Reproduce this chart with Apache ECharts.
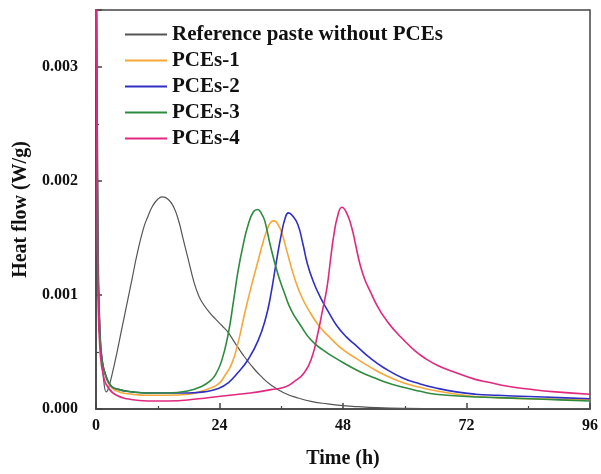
<!DOCTYPE html>
<html>
<head>
<meta charset="utf-8">
<script src="https://cdn.jsdelivr.net/npm/echarts@6/dist/echarts.min.js"></script>
<style>html,body{margin:0;padding:0;background:#fff}#c{width:601px;height:474px}</style>
</head>
<body>
<div id="c"></div>
<script>
// ---- Data (time in h, heat flow in W/g) ----
const seriesNames = ['Reference paste without PCEs', 'PCEs-1', 'PCEs-2', 'PCEs-3', 'PCEs-4'];
const xTicks = [0, 24, 48, 72, 96];
const yTicks = [0.000, 0.001, 0.002, 0.003];

const refT = [0, 0.5, 1.0, 1.5, 2.0, 2.4, 3, 4, 5, 6, 7, 8, 9.2, 10, 11, 12, 12.9, 14, 15, 16, 17, 18, 19, 20, 21, 22, 23.2, 24.5, 25.7, 27, 28.5, 30.2, 32, 34, 36.6, 39, 42, 45, 48, 51, 54.5, 60, 66, 72, 84, 96];
const refV = [0.0042, 0.0012, 0.0005, 0.00025, 0.00015, 0.00018, 0.00028, 0.00048, 0.00070, 0.00092, 0.00114, 0.00136, 0.00158, 0.00168, 0.00178, 0.00184, 0.00186, 0.00184, 0.00178, 0.00166, 0.00148, 0.00130, 0.00112, 0.00099, 0.00091, 0.00085, 0.00079, 0.00073, 0.00067, 0.00058, 0.00048, 0.00038, 0.00029, 0.00021, 0.00014, 0.00010, 0.000065, 0.000045, 0.00003, 0.00002, 0.000012, 0.000006, 0.000004, 0.000003, 0.000002, 0.000002];

const p1T = [0, 0.3, 0.7, 1.2, 2, 3, 4.5, 7, 10, 14, 18, 20, 22, 23.8, 25, 26.4, 27.6, 28.9, 30.2, 31.5, 32.5, 33.4, 34, 34.6, 35.2, 36, 37, 38.5, 40, 41.7, 43.5, 45.6, 48, 50.7, 53.2, 56, 59.7, 63, 66, 70, 73.7, 78, 84, 90, 96];
const p1V = [0.0042, 0.0015, 0.0007, 0.00042, 0.00027, 0.00019, 0.00015, 0.00013, 0.00012, 0.00012, 0.00013, 0.00015, 0.00018, 0.00022, 0.00029, 0.00040, 0.00058, 0.00084, 0.00108, 0.00130, 0.00147, 0.00159, 0.00164, 0.00165, 0.00163, 0.00156, 0.00140, 0.00116, 0.00098, 0.00084, 0.00072, 0.00062, 0.00052, 0.00044, 0.00037, 0.00030, 0.00023, 0.00019, 0.00016, 0.00013, 0.00011, 0.00010, 0.00009, 0.000085, 0.00008];

const p2T = [0, 0.3, 0.7, 1.2, 2, 3, 4.5, 7, 10, 14, 18, 21, 23.8, 25.7, 27.6, 29.5, 31.5, 33, 34, 35, 36, 36.8, 37.4, 38.1, 39.2, 40.2, 41.1, 42.3, 43.6, 45.2, 46.8, 48.7, 50.7, 53.2, 56, 59.7, 63, 66, 70, 73.7, 78, 84, 90, 96];
const p2V = [0.0042, 0.0015, 0.0007, 0.00042, 0.00028, 0.00020, 0.00017, 0.00015, 0.00014, 0.00014, 0.00014, 0.00015, 0.00018, 0.00023, 0.00032, 0.00043, 0.00060, 0.00080, 0.00101, 0.00128, 0.00153, 0.00168, 0.00172, 0.00170, 0.00162, 0.00145, 0.00127, 0.00111, 0.00098, 0.00085, 0.00073, 0.00063, 0.00055, 0.00045, 0.00036, 0.00027, 0.00022, 0.000185, 0.00015, 0.00013, 0.00012, 0.00011, 0.00010, 0.00009];

const p3T = [0, 0.3, 0.7, 1.2, 2, 3, 4.5, 7, 10, 14, 18, 20.6, 22, 23.2, 24.4, 25.7, 26.7, 27.6, 28.6, 29.6, 30.6, 31.4, 32.2, 32.8, 33.8, 35.3, 36.6, 37.9, 39.8, 41.7, 44, 46.8, 50.7, 53.2, 56, 59.7, 63, 66, 72, 78, 84, 90, 96];
const p3V = [0.0042, 0.0015, 0.0007, 0.00042, 0.00028, 0.00020, 0.00017, 0.00015, 0.00014, 0.00014, 0.00016, 0.00020, 0.00024, 0.00030, 0.00042, 0.00066, 0.00094, 0.00121, 0.00144, 0.00162, 0.00173, 0.00175, 0.00171, 0.00165, 0.00145, 0.00119, 0.00102, 0.00087, 0.00073, 0.00061, 0.00052, 0.00044, 0.00034, 0.00029, 0.00024, 0.00019, 0.000155, 0.00013, 0.00011, 0.00010, 0.00009, 0.00008, 0.00007];

const p4T = [0, 0.15, 0.4, 0.8, 1.5, 2.5, 4, 6, 10, 14, 20, 23.8, 30, 34, 36.6, 38.5, 40.5, 42, 43, 44, 44.9, 45.6, 46.2, 47, 47.8, 48.7, 49.7, 50.5, 51.3, 52.2, 53.2, 54.7, 56.4, 58, 59.7, 62, 64.1, 66.5, 69.3, 73.7, 76.3, 80, 84, 89.3, 96];
const p4V = [0.0045, 0.0025, 0.0010, 0.0005, 0.00028, 0.00018, 0.00012, 0.00009, 0.00007, 0.00007, 0.00009, 0.00011, 0.00014, 0.00017, 0.00019, 0.00024, 0.00032, 0.00046, 0.00064, 0.00086, 0.00107, 0.00132, 0.00152, 0.00170, 0.00177, 0.00172, 0.00159, 0.00143, 0.00127, 0.00114, 0.00104, 0.00090, 0.00078, 0.00069, 0.00061, 0.00051, 0.00044, 0.00038, 0.00033, 0.00026, 0.000235, 0.00020, 0.000175, 0.00015, 0.00013];

const colors = ['#555555', '#f5a83a', '#2f2fc4', '#2e8b3e', '#e0287e'];
const widths = [1.2, 1.6, 1.6, 1.6, 1.6];

const allT = [refT, p1T, p2T, p3T, p4T];
const allV = [refV, p1V, p2V, p3V, p4V];
const zip = (a, b) => a.map((t, i) => [t, b[i]]);

const FONT = 'Liberation Serif';
const chart = echarts.init(document.getElementById('c'), null, {renderer: 'canvas'});
chart.setOption({
  animation: false,
  backgroundColor: '#fff',
  grid: {left: 96, right: 4, top: 10, bottom: 61, show: true, borderColor: '#444', borderWidth: 1.5, backgroundColor: 'transparent'},
  legend: {
    left: 125, top: 24, padding: 0, orient: 'vertical', itemWidth: 42, itemHeight: 2, itemGap: 5,
    icon: 'rect',
    textStyle: {fontFamily: FONT, fontWeight: 'bold', fontSize: 21, color: '#111'},
    data: seriesNames
  },
  xAxis: {
    type: 'value', min: xTicks[0], max: xTicks[xTicks.length - 1], interval: 24,
    name: 'Time (h)', nameLocation: 'middle', nameGap: 40,
    nameTextStyle: {fontFamily: FONT, fontWeight: 'bold', fontSize: 20, color: '#111'},
    axisLine: {show: true, lineStyle: {color: '#444', width: 1.5}},
    axisTick: {show: true, inside: true, length: 6, lineStyle: {color: '#444', width: 1.5}},
    minorTick: {show: true, splitNumber: 2, length: 3, lineStyle: {color: '#444', width: 1.2}},
    splitLine: {show: false},
    axisLabel: {margin: 9, fontFamily: FONT, fontWeight: 'bold', fontSize: 16, color: '#111',
      formatter: v => xTicks.includes(v) ? String(v) : ''}
  },
  yAxis: {
    type: 'value', min: 0, max: 0.0035, interval: 0.001,
    name: 'Heat flow (W/g)', nameLocation: 'middle', nameGap: 59,
    nameTextStyle: {fontFamily: FONT, fontWeight: 'bold', fontSize: 20, color: '#111'},
    axisLine: {show: true, lineStyle: {color: '#444', width: 1.5}},
    axisTick: {show: true, inside: true, length: 6, lineStyle: {color: '#444', width: 1.5}},
    minorTick: {show: true, splitNumber: 2, length: 3, lineStyle: {color: '#444', width: 1.2}},
    splitLine: {show: false},
    axisLabel: {margin: 18, showMaxLabel: false, fontFamily: FONT, fontWeight: 'bold', fontSize: 16, color: '#111',
      formatter: v => yTicks.some(t => Math.abs(t - v) < 1e-9) ? v.toFixed(3) : ''}
  },
  series: seriesNames.map((n, i) => ({
    name: n, type: 'line', data: zip(allT[i], allV[i]),
    showSymbol: false, symbol: 'none', smooth: 0.5,
    clip: true,
    lineStyle: {color: colors[i], width: widths[i]},
    itemStyle: {color: colors[i]},
    z: 2 + i
  }))
});
</script>
</body>
</html>
